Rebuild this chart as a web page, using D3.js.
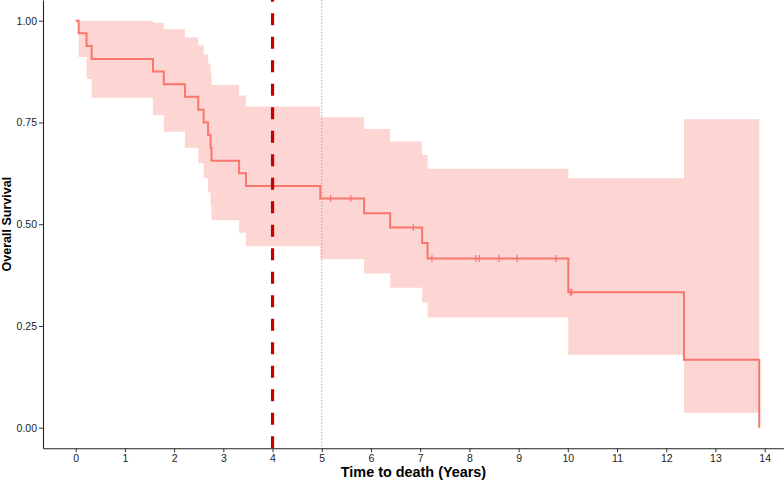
<!DOCTYPE html>
<html>
<head>
<meta charset="utf-8">
<script src="https://cdn.jsdelivr.net/npm/d3@7"></script>
<style>
  html, body { margin: 0; padding: 0; background: #fff; }
  svg { display: block; }
  text { font-family: "Liberation Sans", Arial, Helvetica, sans-serif; }
</style>
</head>
<body>
<div id="chart"></div>
<script>
// Kaplan–Meier estimate (times of events in years)
const eventTimes = [0, 0.06, 0.22, 0.325, 1.57, 1.79, 2.22, 2.49, 2.60, 2.69, 2.74, 2.76, 3.32, 3.46, 4.97, 5.86, 6.39, 7.04, 7.15, 10.01, 12.36, 13.89];
const survival   = [1, 0.969, 0.938, 0.906, 0.875, 0.844, 0.813, 0.781, 0.750, 0.719, 0.688, 0.656, 0.625, 0.594, 0.563, 0.527, 0.492, 0.454, 0.416, 0.333, 0.167, 0];
const lowerCI    = [1, 0.911, 0.857, 0.811, 0.768, 0.727, 0.688, 0.650, 0.613, 0.578, 0.545, 0.510, 0.479, 0.446, 0.414, 0.379, 0.344, 0.307, 0.271, 0.179, 0.037];
const upperCI    = [1, 1.000, 1.000, 1.000, 0.995, 0.979, 0.959, 0.940, 0.917, 0.895, 0.870, 0.842, 0.816, 0.789, 0.763, 0.734, 0.703, 0.670, 0.636, 0.613, 0.758];
const censorTimes = [5.18, 5.59, 6.86, 7.24, 8.13, 8.20, 8.60, 8.97, 9.76, 10.05, 10.08];
const xTicks = [0,1,2,3,4,5,6,7,8,9,10,11,12,13,14];
const yTicks = [0, 0.25, 0.5, 0.75, 1.0];
const cutoffTime = 4;
const referenceTime = 5;

(function () {
const W = 784, H = 481;
const mLeft = 43, mRight = 784, mTop = 0, mBottom = 448.3;

const svg = d3.select("#chart").append("svg").attr("width", W).attr("height", H);

const x = d3.scaleLinear().domain([-0.6645, 14.393]).range([mLeft, mRight]);
const y = d3.scaleLinear().domain([-0.0506, 1.0509]).range([mBottom, mTop]);

const col = "#F8766D";

// CI ribbon
const ribbon = lowerCI.map((lo, i) => ({t: eventTimes[i], lo, hi: upperCI[i]}));
ribbon.push({t: eventTimes[eventTimes.length - 1], lo: lowerCI[lowerCI.length - 1], hi: upperCI[upperCI.length - 1]});
const area = d3.area()
  .x(d => x(d.t)).y0(d => y(d.lo)).y1(d => y(d.hi))
  .curve(d3.curveStepAfter);
svg.append("path").datum(ribbon)
  .attr("d", area)
  .attr("fill", col).attr("fill-opacity", 0.3).attr("stroke", "none");

// dotted reference line at 5 years
svg.append("line")
  .attr("x1", x(referenceTime)).attr("x2", x(referenceTime))
  .attr("y1", mTop).attr("y2", mBottom)
  .attr("stroke", "#a0a0a0").attr("stroke-width", 1)
  .attr("stroke-dasharray", "1.2,2");

// survival step curve
const km = eventTimes.map((t, i) => ({t, s: survival[i]}));
const line = d3.line().x(d => x(d.t)).y(d => y(d.s)).curve(d3.curveStepAfter);
svg.append("path").datum(km)
  .attr("d", line)
  .attr("fill", "none").attr("stroke", col).attr("stroke-width", 2);

// censor marks
function survAt(t) {
  const i = d3.bisectRight(eventTimes, t) - 1;
  return survival[Math.max(0, i)];
}
svg.append("g").selectAll("line").data(censorTimes).join("line")
  .attr("x1", d => x(d)).attr("x2", d => x(d))
  .attr("y1", d => y(survAt(d)) - 3.5).attr("y2", d => y(survAt(d)) + 3.5)
  .attr("stroke", col).attr("stroke-width", 1.2);

// red dashed cutoff line
svg.append("line")
  .attr("x1", x(cutoffTime)).attr("x2", x(cutoffTime))
  .attr("y1", mTop).attr("y2", mBottom)
  .attr("stroke", "#c80000").attr("stroke-width", 3.2)
  .attr("stroke-dasharray", "12,11.5").attr("stroke-dashoffset", 10.2);

// axes
const xAxis = svg.append("g").attr("transform", `translate(0,${mBottom})`)
  .call(d3.axisBottom(x).tickValues(xTicks).tickSize(4).tickSizeOuter(0).tickPadding(2).tickFormat(d3.format("d")));
const yAxis = svg.append("g").attr("transform", `translate(${mLeft},0)`)
  .call(d3.axisLeft(y).tickValues(yTicks).tickSize(4).tickSizeOuter(0).tickPadding(2).tickFormat(d3.format(".2f")));
[xAxis, yAxis].forEach(g => {
  g.select(".domain").attr("stroke", "#222").attr("stroke-width", 1.1);
  g.selectAll(".tick line").attr("stroke", "#333").attr("stroke-width", 1);
  g.selectAll(".tick text").attr("fill", "#222").style("font-size", "10.5px")
    .style("font-family", "'Liberation Sans', Arial, sans-serif");
});

// axis titles
svg.append("text")
  .attr("x", (mLeft + mRight) / 2).attr("y", 476.5)
  .attr("text-anchor", "middle")
  .style("font-size", "14.4px").style("font-weight", "bold").attr("fill", "#000")
  .text("Time to death (Years)");
svg.append("text")
  .attr("transform", `translate(10.5,${(mTop + mBottom) / 2}) rotate(-90)`)
  .attr("text-anchor", "middle")
  .style("font-size", "12.5px").style("font-weight", "bold").attr("fill", "#000")
  .text("Overall Survival");
})();
</script>
</body>
</html>
